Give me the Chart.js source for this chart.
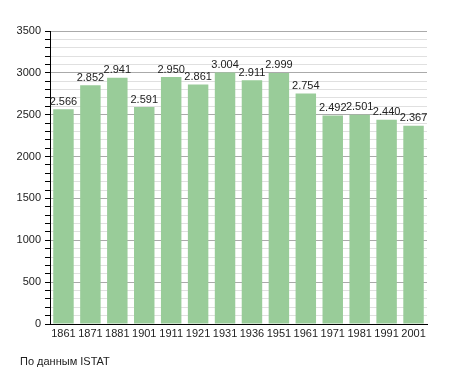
<!DOCTYPE html>
<html>
<head>
<meta charset="utf-8">
<script src="https://cdn.jsdelivr.net/npm/chart.js@4"></script>
<style>
  body { margin: 0; background: #fff; }
  #wrap { position: relative; width: 455px; height: 373px; }
  #note { position: absolute; left: 20px; top: 355px; font: 11px "Liberation Sans", Arial, sans-serif; color: #222; }
</style>
</head>
<body>
<div id="wrap">
  <canvas id="chart" width="455" height="373"></canvas>
  <div id="note">По данным ISTAT</div>
</div>
<script>
const years = ['1861', '1871', '1881', '1901', '1911', '1921', '1931', '1936', '1951', '1961', '1971', '1981', '1991', '2001'];
const population = [2566, 2852, 2941, 2591, 2950, 2861, 3004, 2911, 2999, 2754, 2492, 2501, 2440, 2367];

const fontFamily = '"Liberation Sans", Arial, sans-serif';

// numbers above bars, with a dot as thousands separator
const valueLabels = {
  id: 'valueLabels',
  afterDatasetsDraw(chart) {
    const ctx = chart.ctx;
    const meta = chart.getDatasetMeta(0);
    ctx.save();
    ctx.font = '11px ' + fontFamily;
    ctx.fillStyle = '#222';
    ctx.textAlign = 'center';
    ctx.textBaseline = 'bottom';
    meta.data.forEach(function (bar, i) {
      const v = population[i];
      const txt = Math.floor(v / 1000) + '.' + String(v % 1000).padStart(3, '0');
      ctx.fillText(txt, bar.x, bar.y - 2);
    });
    ctx.restore();
  }
};

new Chart(document.getElementById('chart'), {
  type: 'bar',
  data: {
    labels: years,
    datasets: [{
      data: population,
      backgroundColor: '#99cc99',
      borderWidth: 0,
      barPercentage: 0.76,
      categoryPercentage: 1
    }]
  },
  options: {
    responsive: false,
    animation: false,
    layout: { padding: { top: 31, right: 28, bottom: 27, left: 0 } },
    plugins: {
      legend: { display: false },
      tooltip: { enabled: false }
    },
    scales: {
      x: {
        grid: { display: false, drawTicks: false },
        border: { display: true, color: '#000', width: 1 },
        ticks: { color: '#222', font: { family: fontFamily, size: 11 }, padding: 3, maxRotation: 0, autoSkip: false },
        afterFit: function (scale) { scale.height = 22; }
      },
      y: {
        min: 0,
        max: 3500,
        border: { display: true, color: '#000', width: 1 },
        grid: {
          color: function (c) { return c.tick.value % 500 === 0 ? '#aaaaaa' : '#e0e0e0'; },
          tickColor: '#000',
          tickLength: 5,
          lineWidth: 1
        },
        ticks: {
          stepSize: 100,
          autoSkip: false,
          color: '#222',
          font: { family: fontFamily, size: 11 },
          padding: 4,
          callback: function (v) { return v % 500 === 0 ? String(v) : ''; }
        },
        afterFit: function (scale) { scale.width = 50; }
      }
    }
  },
  plugins: [valueLabels]
});
</script>
</body>
</html>
